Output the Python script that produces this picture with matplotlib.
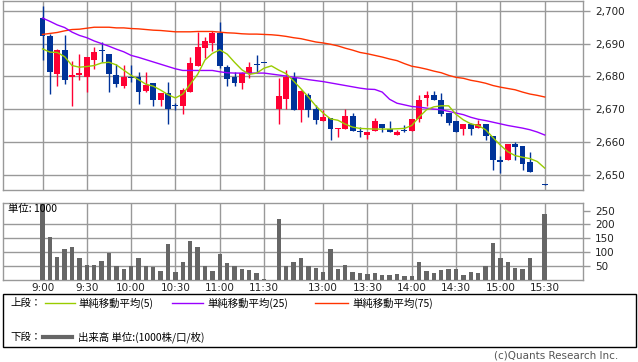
import numpy as np
import matplotlib
matplotlib.use("Agg")
import matplotlib.pyplot as plt
from matplotlib.lines import Line2D
from matplotlib.patches import Rectangle

plt.rcParams['font.family'] = ['DejaVu Sans', 'Noto Sans CJK JP']

N = None
opens = [2697.8, 2692.2, 2680.8, 2688.1, 2679.7, 2680.3, 2679.7, 2684.9, 2688.1, 2686.9,
         2680.5, 2677.1, 2679.8, 2679.8, 2675.6, 2678.0, 2672.7, 2675.0, 2671.3, 2671.0,
         2675.3, 2683.2, 2688.8, 2690.3, 2693.1, 2682.9, 2679.9, 2678.0, 2681.1, 2683.6,
         2684.2, N, 2670.1, 2673.2, 2679.6, 2669.8, 2674.4, 2670.1, 2666.3, 2667.3,
         2663.8, 2663.8, 2668.0, 2663.4, 2662.2, 2663.2, 2665.5, 2663.9, 2662.2, 2663.5,
         2663.2, 2667.1, 2673.3, 2674.4, 2672.9, 2668.7, 2666.5, 2663.8, 2665.5, 2664.1,
         2665.5, 2661.7, 2654.6, 2654.4, 2659.3, 2658.6, 2654.0, N, 2647.1]
highs = [2701.5, 2692.9, 2688.3, 2692.5, 2684.6, 2686.9, 2686.0, 2689.0, 2690.4, 2686.9,
         2683.8, 2683.4, 2683.5, 2681.2, 2681.4, 2678.0, 2675.0, 2678.4, 2671.8, 2676.4,
         2686.0, 2693.6, 2692.1, 2693.8, 2696.6, 2683.5, 2681.4, 2681.4, 2684.5, 2686.6,
         2684.2, N, 2679.6, 2682.0, 2681.4, 2675.9, 2675.0, 2671.3, 2669.8, 2667.3,
         2664.3, 2670.1, 2668.8, 2664.4, 2663.0, 2667.3, 2665.5, 2666.5, 2663.5, 2665.0,
         2667.1, 2674.4, 2675.6, 2675.6, 2674.9, 2668.7, 2666.5, 2665.5, 2665.9, 2666.7,
         2665.5, 2661.7, 2655.6, 2659.3, 2660.0, 2658.6, 2657.0, N, 2647.1]
lows = [2685.1, 2674.7, 2677.1, 2677.7, 2671.0, 2678.8, 2675.3, 2682.3, 2684.3, 2675.3,
        2676.9, 2676.3, 2678.2, 2671.6, 2675.3, 2671.0, 2671.0, 2665.5, 2669.8, 2668.6,
        2675.3, 2683.2, 2685.7, 2687.8, 2682.6, 2677.1, 2677.1, 2676.2, 2679.6, 2681.1,
        2684.0, N, 2665.5, 2670.1, 2669.8, 2666.2, 2667.7, 2665.5, 2666.3, 2660.7,
        2661.4, 2663.8, 2663.2, 2661.4, 2660.9, 2663.2, 2662.9, 2662.9, 2662.0, 2662.9,
        2663.2, 2666.0, 2671.0, 2672.7, 2668.0, 2665.2, 2662.9, 2662.2, 2662.2, 2664.1,
        2660.7, 2651.5, 2650.5, 2654.4, 2654.6, 2651.5, 2650.7, N, 2646.9]
closes = [2692.2, 2681.2, 2688.1, 2678.8, 2680.5, 2681.1, 2686.0, 2687.5, 2687.9, 2680.8,
          2677.7, 2679.8, 2679.6, 2675.3, 2677.4, 2672.7, 2675.0, 2670.1, 2671.2, 2675.9,
          2684.1, 2689.0, 2690.8, 2693.1, 2683.2, 2679.3, 2678.0, 2681.1, 2682.9, 2683.5,
          2684.0, N, 2674.1, 2679.9, 2669.8, 2675.6, 2669.8, 2666.8, 2667.5, 2663.8,
          2664.3, 2668.0, 2663.2, 2662.9, 2663.0, 2666.5, 2664.1, 2662.9, 2663.1, 2663.4,
          2667.1, 2672.9, 2674.4, 2672.7, 2668.4, 2665.7, 2662.9, 2665.5, 2663.8, 2665.5,
          2661.7, 2654.4, 2653.8, 2659.3, 2658.3, 2653.3, 2650.7, N, 2646.9]
volumes = [274, 154, 82, 111, 118, 79, 54, 54, 68, 98,
           50, 39, 50, 79, 50, 46, 33, 129, 29, 64,
           139, 118, 50, 33, 93, 61, 50, 39, 36, 25,
           4, N, 221, 50, 64, 79, 50, 43, 29, 111,
           39, 54, 29, 25, 21, 25, 18, 18, 21, 14,
           14, 64, 32, 25, 36, 39, 39, 18, 29, 25,
           50, 132, 79, 64, 43, 39, 79, N, 236]
ma5 = [2688.4, 2687.4, 2687.3, 2686.0, 2683.3, 2682.8, 2683.0, 2683.3, 2684.1, 2684.3,
       2683.5, 2681.9, 2680.3, 2679.0, 2677.6, 2677.0, 2675.8, 2674.4, 2673.4, 2674.6,
       2677.6, 2680.6, 2685.0, 2687.0, 2688.1, 2686.8, 2684.3, 2682.0, 2680.6, 2681.0,
       2682.5, 2683.2, 2681.9, 2680.8, 2678.6, 2676.2, 2673.7, 2671.0, 2668.8, 2667.0,
       2666.6, 2665.4, 2664.5, 2664.1, 2664.0, 2663.9, 2663.9, 2663.9, 2664.0, 2664.1,
       2665.0, 2667.6, 2669.8, 2670.7, 2671.0, 2671.0, 2668.4, 2666.7, 2665.5, 2665.0,
       2663.7, 2661.3, 2659.0, 2657.0, 2655.8, 2655.3, 2654.9, 2654.0, 2652.0]
ma25 = [2697.8, 2696.8, 2695.7, 2694.9, 2693.5, 2692.5, 2691.8, 2690.8, 2690.0, 2689.2,
        2688.3, 2687.5, 2686.4, 2685.8, 2685.1, 2684.4, 2683.7, 2683.0, 2682.3, 2681.8,
        2681.8, 2681.8, 2681.8, 2681.8, 2681.4, 2681.1, 2681.0, 2681.0, 2681.0, 2681.0,
        2681.0, 2680.7, 2680.4, 2680.1, 2679.7, 2679.4, 2679.0, 2678.7, 2678.4, 2678.0,
        2677.6, 2677.2, 2676.8, 2676.4, 2676.1, 2676.0, 2675.2, 2673.0, 2671.8, 2671.3,
        2670.8, 2670.6, 2670.3, 2670.0, 2669.8, 2669.3, 2668.8, 2668.3, 2667.5, 2666.9,
        2666.5, 2666.0, 2665.5, 2665.0, 2664.6, 2664.2, 2663.7, 2663.0, 2662.1]
ma75 = [2692.8, 2693.1, 2693.4, 2693.9, 2694.3, 2694.4, 2694.7, 2695.0, 2695.0, 2695.0,
        2694.8, 2694.8, 2694.6, 2694.5, 2694.3, 2694.1, 2694.0, 2693.8, 2693.6, 2693.6,
        2693.6, 2693.7, 2693.7, 2693.7, 2693.5, 2693.3, 2693.2, 2693.0, 2692.9, 2692.9,
        2692.8, 2692.7, 2692.5, 2692.2, 2691.8, 2691.5, 2691.0, 2690.5, 2690.2, 2689.8,
        2689.3, 2688.6, 2688.0, 2687.3, 2686.9, 2686.4, 2685.9, 2685.3, 2684.8, 2683.9,
        2683.1, 2682.7, 2682.2, 2681.6, 2681.1, 2680.3, 2679.7, 2679.4, 2678.8, 2678.4,
        2677.9, 2677.2, 2676.7, 2676.3, 2675.9, 2675.2, 2674.6, 2674.2, 2673.7]
tick_idx = [0, 6, 12, 18, 24, 30, 38, 44, 50, 56, 62, 68]
tick_labels = ['9:00', '9:30', '10:00', '10:30', '11:00', '11:30',
               '13:00', '13:30', '14:00', '14:30', '15:00', '15:30']
price_ticks = [2650, 2660, 2670, 2680, 2690, 2700]
vol_ticks = [50, 100, 150, 200, 250]

UP = '#ff0033'
DOWN = '#003399'
GRID = '#999999'
C5 = '#99cc00'
C25 = '#9900ff'
C75 = '#ff3300'

W, H = 638, 362
fig = plt.figure(figsize=(W / 100, H / 100), dpi=100)

def fbox(l, t, r, b):
    return [l / W, 1 - b / H, (r - l) / W, (b - t) / H]

ax = fig.add_axes(fbox(3, 0.7, 582.7, 190))
axv = fig.add_axes(fbox(3, 203, 582.7, 280))

x = np.arange(len(opens))
for a in (ax, axv):
    a.set_xlim(-5.35, 73.15)
    for s in a.spines.values():
        s.set_color(GRID)
        s.set_linewidth(1.0)
    a.set_axisbelow(True)
    a.set_xticks(tick_idx)
    a.xaxis.grid(True, color=GRID, linewidth=1.0)
    a.yaxis.tick_right()
    a.tick_params(axis='y', which='both', direction='out', length=5, width=1,
                  color=GRID, labelsize=7.5, pad=4, labelcolor='#222222')
    a.tick_params(axis='x', length=0, labelsize=7.5, labelcolor='#222222', pad=2)

ax.set_ylim(2645.3, 2703.1)
ax.set_yticks(price_ticks)
ax.set_yticklabels([f"{v:,}" for v in price_ticks])
ax.yaxis.grid(True, color=GRID, linewidth=1.0)
ax.set_xticklabels([])

# candles
for i in range(len(opens)):
    o, h, l, c = opens[i], highs[i], lows[i], closes[i]
    if o is None:
        continue
    col = UP if c > o else DOWN
    ax.vlines(i, l, h, color=col, linewidth=1.0, zorder=3)
    bottom = min(o, c)
    height = max(abs(c - o), 0.3)
    if abs(c - o) < 0.3:
        bottom = (o + c) / 2 - 0.15
    ax.bar(i, height, bottom=bottom, width=0.8, color=col, linewidth=0, zorder=4)

ax.plot(x, ma75, color=C75, linewidth=1.0, zorder=5)
ax.plot(x, ma25, color=C25, linewidth=1.0, zorder=5)
ax.plot(x, ma5, color=C5, linewidth=1.0, zorder=5)

# volume
vx = [i for i, v in enumerate(volumes) if v is not None]
vv = [v for v in volumes if v is not None]
axv.bar(vx, vv, width=0.6, color='#666666', linewidth=0, zorder=3)
axv.set_ylim(0, 277)
axv.set_yticks(vol_ticks)
axv.set_xticklabels(tick_labels)
for v in vol_ticks[:-1]:
    axv.axhline(v, color=GRID, linewidth=1.0, zorder=1)
axv.text(8 / W, 1 - 209 / H, '単位: 1000', transform=fig.transFigure,
         fontsize=7.5, family=['Noto Sans CJK JP'], va='center', ha='left', zorder=10)

# legend box
fig.patches.append(Rectangle((3 / W, 1 - 347 / H), 633 / W, 53 / H,
                             transform=fig.transFigure, fill=False,
                             edgecolor='black', linewidth=1.0))
jp = ['Noto Sans CJK JP', 'DejaVu Sans']
y1 = 1 - 303 / H
y2 = 1 - 337 / H
fs = 7.5
fig.text(10 / W, y1, '上段：', fontsize=fs, family=jp, va='center')
fig.add_artist(Line2D([45 / W, 75 / W], [y1, y1], color=C5, linewidth=1.0))
fig.text(78 / W, y1, '単純移動平均(5)', fontsize=fs, family=jp, va='center')
fig.add_artist(Line2D([172 / W, 203 / W], [y1, y1], color=C25, linewidth=1.0))
fig.text(207 / W, y1, '単純移動平均(25)', fontsize=fs, family=jp, va='center')
fig.add_artist(Line2D([315 / W, 348 / W], [y1, y1], color=C75, linewidth=1.0))
fig.text(352 / W, y1, '単純移動平均(75)', fontsize=fs, family=jp, va='center')
fig.text(10 / W, y2, '下段：', fontsize=fs, family=jp, va='center')
fig.add_artist(Line2D([43 / W, 72 / W], [y2, y2], color='#666666', linewidth=3.0))
fig.text(78 / W, y2, '出来高 単位:(1000株/口/枚)', fontsize=fs, family=jp, va='center')

fig.text(618 / W, 1 - 356 / H, '(c)Quants Research Inc.', fontsize=7.5,
         color='#555555', ha='right', va='center')

fig.savefig('out.png', dpi=100)
